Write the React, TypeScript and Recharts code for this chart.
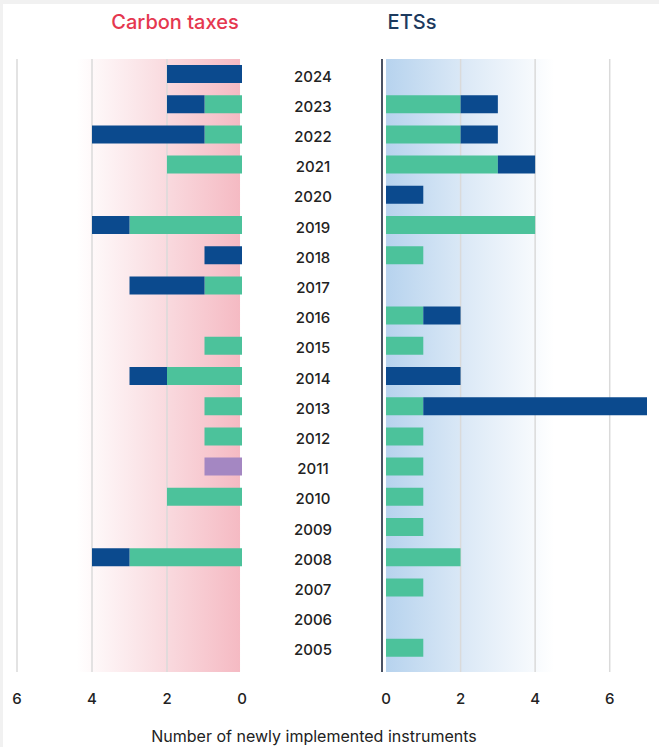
import { Bar, BarChart, CartesianGrid, XAxis, YAxis } from "recharts";

// years run top to bottom, newest first
const years = [
  "2024", "2023", "2022", "2021", "2020", "2019", "2018", "2017", "2016", "2015",
  "2014", "2013", "2012", "2011", "2010", "2009", "2008", "2007", "2006", "2005",
];

// carbon taxes (left panel)
const taxGreen = [0, 1, 1, 2, 0, 3, 0, 1, 0, 1, 2, 1, 1, 0, 2, 0, 3, 0, 0, 0];
const taxBlue = [2, 1, 3, 0, 0, 1, 1, 2, 0, 0, 1, 0, 0, 0, 0, 0, 1, 0, 0, 0];
const taxPurple = [0, 0, 0, 0, 0, 0, 0, 0, 0, 0, 0, 0, 0, 1, 0, 0, 0, 0, 0, 0];

// ETSs (right panel)
const etsGreen = [0, 2, 2, 3, 0, 4, 1, 0, 1, 1, 0, 1, 1, 1, 1, 1, 2, 1, 0, 1];
const etsBlue = [0, 1, 1, 1, 1, 0, 0, 0, 1, 0, 2, 6, 0, 0, 0, 0, 0, 0, 0, 0];

const taxTicks = [0, 2, 4, 6];
const etsTicks = [0, 2, 4, 6];
const gridValues = [2, 4, 6];

const GREEN = "#4cc29b";
const BLUE = "#0b4a8e";
const PURPLE = "#a487c2";
const GRID = "#dadada";
const AXIS = "#4a5263";
const TEXT = "#222222";

const CHART_H = 712;
const PLOT_TOP = 59;
const YEAR_AXIS_W = 136;

const taxRows = years.map((year, i) => ({
  year,
  green: taxGreen[i],
  blue: taxBlue[i],
  purple: taxPurple[i],
}));

const etsRows = years.map((year, i) => ({
  year,
  green: etsGreen[i],
  blue: etsBlue[i],
}));

function YearTick(props: any) {
  return (
    <text
      x={YEAR_AXIS_W / 2 - 1}
      y={props.y}
      dy={2}
      textAnchor="middle"
      dominantBaseline="central"
      fontSize={15}
      fontWeight={500}
      fill={TEXT}
    >
      {props.payload.value}
    </text>
  );
}

export default function App() {
  return (
    <div
      style={{
        position: "absolute",
        left: 0,
        top: 0,
        width: 659,
        height: 747,
        background: "#f1f1f1",
        fontFamily: "Inter, 'Open Sans', sans-serif",
        overflow: "hidden",
      }}
    >
      <div
        style={{
          position: "absolute",
          left: 3,
          top: 4,
          width: 656,
          height: 743,
          background: "#ffffff",
        }}
      />
      <div
        style={{
          position: "absolute",
          left: 175,
          top: 9,
          transform: "translateX(-50%)",
          fontSize: 20,
          lineHeight: "26px",
          color: "#e5374f",
          fontWeight: 500,
          whiteSpace: "nowrap",
        }}
      >
        Carbon taxes
      </div>
      <div
        style={{
          position: "absolute",
          left: 412,
          top: 9,
          transform: "translateX(-50%)",
          fontSize: 20,
          lineHeight: "26px",
          color: "#1d3a5e",
          fontWeight: 500,
          whiteSpace: "nowrap",
        }}
      >
        ETSs
      </div>

      <div style={{ position: "absolute", left: 0, top: 0 }}>
        <BarChart
          width={250}
          height={CHART_H}
          layout="vertical"
          data={taxRows}
          margin={{ top: PLOT_TOP, right: 4, bottom: 0, left: 17 }}
          barSize={18}
        >
          <defs>
            <linearGradient id="taxBg" x1="0" y1="0" x2="1" y2="0">
              <stop offset="0" stopColor="#ffffff" />
              <stop offset="0.26" stopColor="#ffffff" />
              <stop offset="0.6" stopColor="#fadfe3" />
              <stop offset="0.975" stopColor="#f5bac3" />
              <stop offset="0.976" stopColor="#ffffff" />
              <stop offset="1" stopColor="#ffffff" />
            </linearGradient>
          </defs>
          <CartesianGrid
            horizontal={false}
            verticalValues={gridValues}
            stroke={GRID}
            strokeWidth={1.5}
            fill="url(#taxBg)"
            fillOpacity={1}
          />
          <XAxis
            type="number"
            domain={[0, 6]}
            ticks={taxTicks}
            reversed
            padding={{ left: 0, right: 4 }}
            axisLine={false}
            tickLine={false}
            tickMargin={15}
            height={40}
            interval={0}
            tick={{ fontSize: 15, fill: TEXT, fontWeight: 500 }}
          />
          <YAxis
            type="category"
            dataKey="year"
            orientation="right"
            width={0}
            tick={false}
            tickLine={false}
            axisLine={{ stroke: AXIS, strokeWidth: 2 }}
            padding={{ top: 0, bottom: 9 }}
          />
          <Bar dataKey="green" stackId="t" fill={GREEN} isAnimationActive={false} />
          <Bar dataKey="purple" stackId="t" fill={PURPLE} isAnimationActive={false} />
          <Bar dataKey="blue" stackId="t" fill={BLUE} isAnimationActive={false} />
        </BarChart>
      </div>

      <div style={{ position: "absolute", left: 246, top: 0 }}>
        <BarChart
          width={413}
          height={CHART_H}
          layout="vertical"
          data={etsRows}
          margin={{ top: PLOT_TOP, right: 12, bottom: 0, left: 0 }}
          barSize={18}
        >
          <defs>
            <linearGradient id="etsBg" x1="0" y1="0" x2="1" y2="0">
              <stop offset="0" stopColor="#ffffff" />
              <stop offset="0.016" stopColor="#ffffff" />
              <stop offset="0.017" stopColor="#b7d3ee" />
              <stop offset="0.3" stopColor="#dae8f6" />
              <stop offset="0.65" stopColor="#ffffff" />
              <stop offset="1" stopColor="#ffffff" />
            </linearGradient>
          </defs>
          <CartesianGrid
            horizontal={false}
            verticalValues={gridValues}
            stroke={GRID}
            strokeWidth={1.5}
            fill="url(#etsBg)"
            fillOpacity={1}
          />
          <XAxis
            type="number"
            domain={[0, 7]}
            ticks={etsTicks}
            padding={{ left: 4, right: 0 }}
            axisLine={false}
            tickLine={false}
            tickMargin={15}
            height={40}
            interval={0}
            tick={{ fontSize: 15, fill: TEXT, fontWeight: 500 }}
          />
          <YAxis
            type="category"
            dataKey="year"
            orientation="left"
            width={YEAR_AXIS_W}
            tick={<YearTick />}
            tickLine={false}
            interval={0}
            axisLine={{ stroke: AXIS, strokeWidth: 2 }}
            padding={{ top: 0, bottom: 9 }}
          />
          <Bar dataKey="green" stackId="e" fill={GREEN} isAnimationActive={false} />
          <Bar dataKey="blue" stackId="e" fill={BLUE} isAnimationActive={false} />
        </BarChart>
      </div>

      <div
        style={{
          position: "absolute",
          left: 314,
          top: 726,
          transform: "translateX(-50%)",
          fontSize: 16,
          lineHeight: "20px",
          color: TEXT,
          fontWeight: 400,
          whiteSpace: "nowrap",
        }}
      >
        Number of newly implemented instruments
      </div>
    </div>
  );
}
